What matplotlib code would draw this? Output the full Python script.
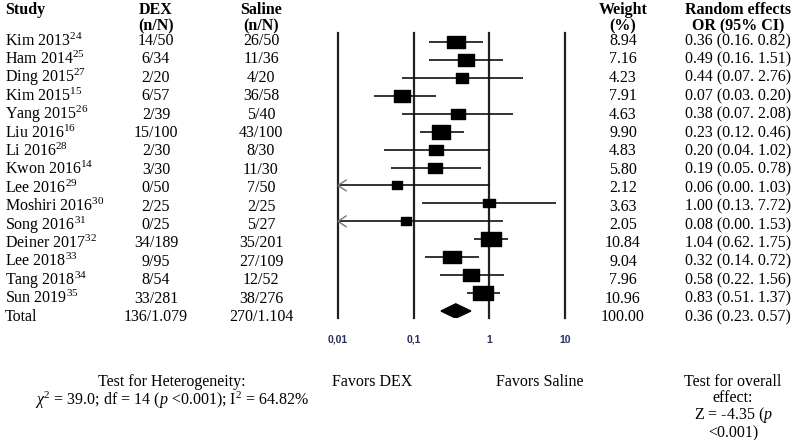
import numpy as np
import matplotlib
matplotlib.use("Agg")
import matplotlib.pyplot as plt
from matplotlib.path import Path

plt.rcParams['font.family'] = ['Liberation Serif', 'DejaVu Serif']
plt.rcParams['mathtext.fontset'] = 'custom'
plt.rcParams['mathtext.rm'] = 'Liberation Serif'
plt.rcParams['mathtext.it'] = 'Liberation Serif:italic'
plt.rcParams['mathtext.bf'] = 'Liberation Serif:bold'

# Data
studies = ["Kim 2013", "Ham 2014", "Ding 2015", "Kim 2015", "Yang 2015",
           "Liu 2016", "Li 2016", "Kwon 2016", "Lee 2016", "Moshiri 2016",
           "Song 2016", "Deiner 2017", "Lee 2018", "Tang 2018", "Sun 2019"]
refs = ["24", "25", "27", "15", "26", "16", "28", "14", "29", "30",
        "31", "32", "33", "34", "35"]
dex = ["14/50", "6/34", "2/20", "6/57", "2/39", "15/100", "2/30", "3/30",
       "0/50", "2/25", "0/25", "34/189", "9/95", "8/54", "33/281"]
saline = ["26/50", "11/36", "4/20", "36/58", "5/40", "43/100", "8/30", "11/30",
          "7/50", "2/25", "5/27", "35/201", "27/109", "12/52", "38/276"]
weight = [8.94, 7.16, 4.23, 7.91, 4.63, 9.90, 4.83, 5.80, 2.12, 3.63,
          2.05, 10.84, 9.04, 7.96, 10.96]
odds = [0.36, 0.49, 0.44, 0.07, 0.38, 0.23, 0.20, 0.19, 0.06, 1.00,
        0.08, 1.04, 0.32, 0.58, 0.83]
ci_lo = [0.16, 0.16, 0.07, 0.03, 0.07, 0.12, 0.04, 0.05, 0.00, 0.13,
         0.00, 0.62, 0.14, 0.22, 0.51]
ci_hi = [0.82, 1.51, 2.76, 0.20, 2.08, 0.46, 1.02, 0.78, 1.03, 7.72,
         1.53, 1.75, 0.72, 1.56, 1.37]
total_dex = "136/1.079"
total_saline = "270/1.104"
total_weight = 100.00
total_or, total_lo, total_hi = 0.36, 0.23, 0.57
tick_vals = [0.01, 0.1, 1, 10]
tick_labels = ["0,01", "0,1", "1", "10"]

W, H = 793, 440
fig = plt.figure(figsize=(W / 100, H / 100), dpi=100)

# background axes in pixel coordinates for the table text
bg = fig.add_axes([0, 0, 1, 1])
bg.set_xlim(0, W)
bg.set_ylim(H, 0)
bg.axis("off")

FS = 11.5
x_study, x_dex, x_sal, x_w, x_or = 5, 156, 261, 623, 738
y_h1, y_h2 = 10, 26
row_y0, row_dy = 41, 18.4

bg.text(x_study, y_h1, "Study", fontsize=FS, fontweight="bold", va="center")
for x, l1, l2 in [(x_dex, "DEX", "(n/N)"), (x_sal, "Saline", "(n/N)"),
                  (x_w, "Weight", "(%)"), (x_or, "Random effects", "OR (95% CI)")]:
    bg.text(x, y_h1, l1, fontsize=FS, fontweight="bold", ha="center", va="center")
    bg.text(x, y_h2, l2, fontsize=FS, fontweight="bold", ha="center", va="center")

for i in range(len(studies)):
    y = row_y0 + i * row_dy
    bg.text(x_study, y, studies[i] + "$^{" + refs[i] + "}$", fontsize=FS, va="center")
    bg.text(x_dex, y, dex[i], fontsize=FS, ha="center", va="center")
    bg.text(x_sal, y, saline[i], fontsize=FS, ha="center", va="center")
    bg.text(x_w, y, f"{weight[i]:.2f}", fontsize=FS, ha="center", va="center")
    bg.text(x_or, y, f"{odds[i]:.2f} ({ci_lo[i]:.2f}. {ci_hi[i]:.2f})",
            fontsize=FS, ha="center", va="center")

y = row_y0 + len(studies) * row_dy
bg.text(x_study, y, "Total", fontsize=FS, va="center")
bg.text(x_dex, y, total_dex, fontsize=FS, ha="center", va="center")
bg.text(x_sal, y, total_saline, fontsize=FS, ha="center", va="center")
bg.text(x_w, y, f"{total_weight:.2f}", fontsize=FS, ha="center", va="center")
bg.text(x_or, y, f"{total_or:.2f} ({total_lo:.2f}. {total_hi:.2f})",
        fontsize=FS, ha="center", va="center")

# footer
bg.text(172, 374, "Test for Heterogeneity:\n"
        r"$\chi^2$ = 39.0; df = 14 ($p$ <0.001); I$^2$ = 64.82%",
        fontsize=FS, ha="center", va="top", multialignment="center",
        linespacing=1.0)
bg.text(372, 382, "Favors DEX", fontsize=FS, ha="center", va="center")
bg.text(540, 382, "Favors Saline", fontsize=FS, ha="center", va="center")
bg.text(733, 374, "Test for overall\neffect:\nZ = -4.35 ($p$\n<0.001)",
        fontsize=FS, ha="center", va="top", multialignment="center",
        linespacing=0.98)

# forest plot axes
px_l, px_r, px_t, px_b = 338, 565, 33, 318
ax = fig.add_axes([px_l / W, 1 - px_b / H, (px_r - px_l) / W, (px_b - px_t) / H])
ax.set_xscale("log")
ax.set_xlim(tick_vals[0], tick_vals[-1])
ax.set_ylim(15.39, -0.5)
ax.patch.set_alpha(0)
for s in ax.spines.values():
    s.set_visible(False)
ax.set_yticks([])
ax.minorticks_off()
ax.set_xticks(tick_vals)
ax.set_xticklabels(tick_labels, fontfamily="Liberation Sans", fontweight="bold",
                   fontsize=7.5, color="#27325a")
ax.tick_params(axis="x", length=0, pad=12)

for tv in tick_vals:
    ax.axvline(tv, color="#222222", lw=1.6, clip_on=False, zorder=1)

box = Path([(-1, -0.72), (1, -0.72), (1, 0.72), (-1, 0.72), (-1, -0.72)],
           [Path.MOVETO, Path.LINETO, Path.LINETO, Path.LINETO, Path.CLOSEPOLY])

for i in range(len(studies)):
    lo = max(ci_lo[i], tick_vals[0])
    ax.plot([lo, ci_hi[i]], [i, i], color="#111111", lw=1.2, zorder=2,
            solid_capstyle="butt", clip_on=False)
    if ci_lo[i] < tick_vals[0]:
        ax.plot([tick_vals[0] * 1.28, tick_vals[0], tick_vals[0] * 1.28],
                [i - 0.3, i, i + 0.3], color="#777777", lw=1.0, zorder=3,
                clip_on=False)
    size = (8 + 1.1 * weight[i]) / 1.389
    ax.plot(odds[i], i, marker=box, markersize=size, color="black",
            linestyle="none", zorder=4)

yt = len(studies)
ax.fill([total_lo, total_or, total_hi, total_or], [yt, yt - 0.4, yt, yt + 0.4],
        color="black", zorder=4)

fig.savefig("out.png", dpi=100)
